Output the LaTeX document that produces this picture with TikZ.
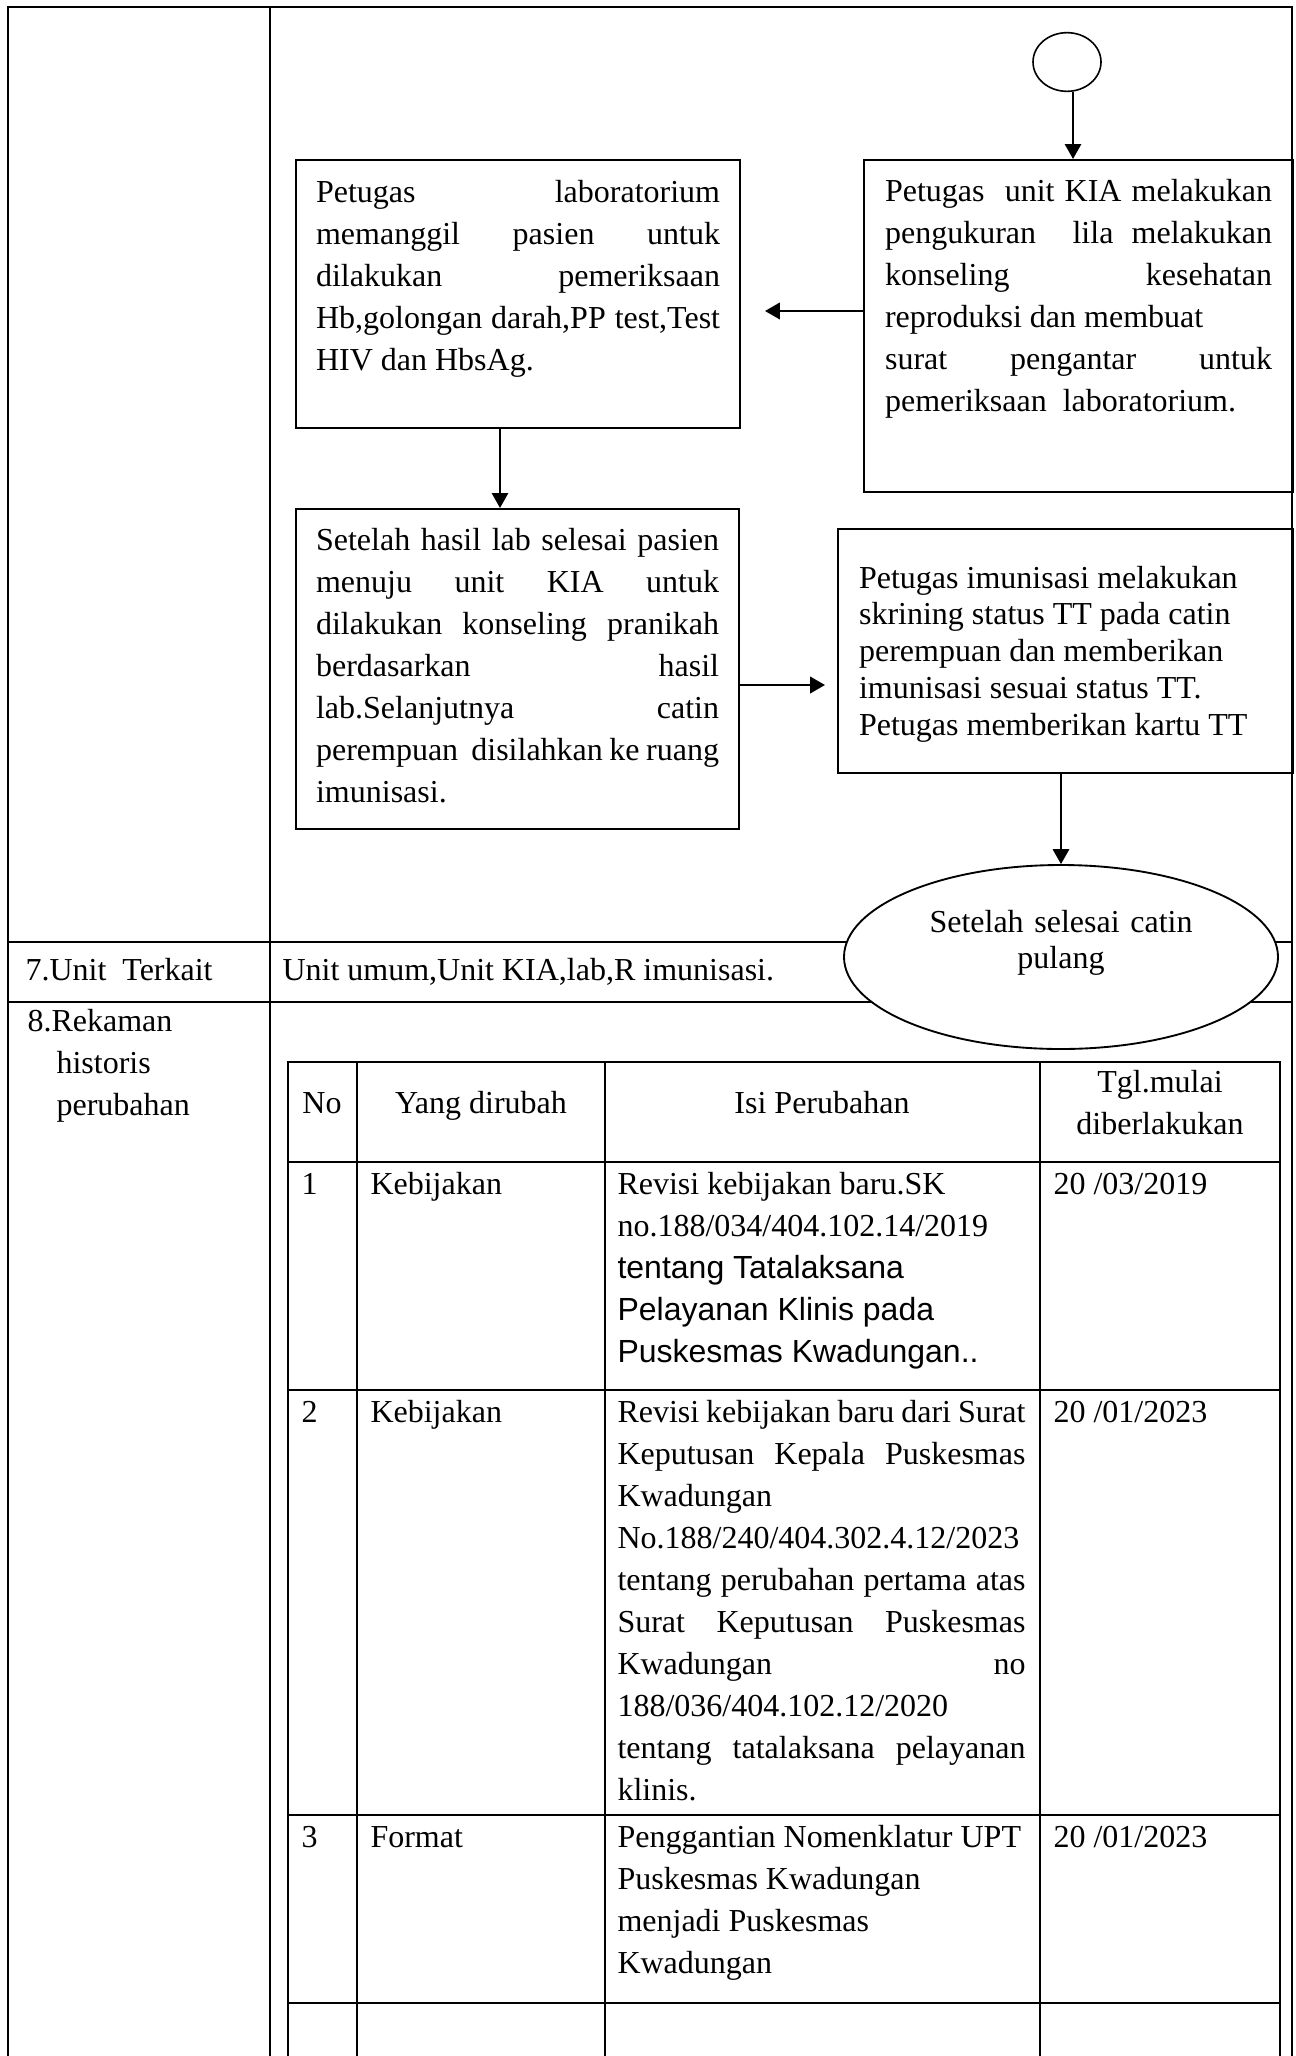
\documentclass[tikz,border=0pt]{standalone}
\usepackage{fontspec}
\setmainfont{Liberation Serif}
\newfontfamily\arialfont{Liberation Sans}
\usepackage{tikz}
\usetikzlibrary{positioning,arrows.meta,shapes.geometric}
\newcommand\jline[1]{{\spaceskip=0pt\xspaceskip=0pt\makebox[\hsize][s]{#1}}}
\tikzset{
    x=0.375pt,
    y=-0.375pt,
    block/.style = {
        draw,
        shape=rectangle,
        line width=0.8pt,
        inner xsep=7.5pt,
        inner ysep=0pt,
        align=left,
        anchor=base west,
        font=\fontsize{12}{15.75}\selectfont,
        execute at begin node={\spaceskip=0pt\xspaceskip=0pt\relax}
    },
    terminal/.style = {
        draw,
        shape=ellipse,
        fill=white,
        line width=0.7pt,
        inner sep=0pt
    },
    cell/.style = {
        anchor=base west,
        inner sep=0pt,
        align=left,
        font=\fontsize{12}{15.75}\selectfont,
        execute at begin node={\spaceskip=0pt\xspaceskip=0pt\relax}
    },
    rule/.style = {line width=1pt, line cap=rect},
    thinline/.style = {line width=0.5pt},
    thickline/.style = {line width=0.9pt},
    >={Triangle[length=5.6pt,width=6.2pt]},
}

\begin{document}
\begin{tikzpicture}
    \useasboundingbox (0,0) rectangle (1296,2056);

    % outer table
    \draw[rule] (8,2056) -- (8,7) -- (1292,7) -- (1292,2056);
    \draw[rule] (270,7) -- (270,2056);
    \draw[rule] (8,942) -- (1292,942);
    \draw[rule] (8,1002) -- (1292,1002);

    % flow
    \node[terminal, line width=0.6pt, minimum width=25.5pt, minimum height=22pt] (start) at (1067,62) {};
    \node[block, inner xsep=7.875pt, text width=145.125pt, text height=15.375pt, text depth=109.125pt] (kia) at (863,201)
        {\jline{Petugas\ \ unit KIA melakukan}\\
         \jline{pengukuran\ \ lila melakukan}\\
         \jline{konseling kesehatan}\\
         reproduksi dan membuat\\
         \jline{surat pengantar untuk}\\
         pemeriksaan\ \ laboratorium.};
    \node[block, text width=151.5pt, text height=15.75pt, text depth=84.75pt] (lab) at (295,202)
        {\jline{Petugas laboratorium}\\
         \jline{memanggil pasien untuk}\\
         \jline{dilakukan pemeriksaan}\\
         \jline{Hb,golongan darah,PP test,Test}\\
         HIV dan HbsAg.};
    \node[block, text width=151.125pt, text height=15.375pt, text depth=104.625pt] (konseling) at (295,550)
        {\jline{Setelah hasil lab selesai pasien}\\
         \jline{menuju unit KIA untuk}\\
         \jline{dilakukan konseling pranikah}\\
         \jline{berdasarkan hasil}\\
         \jline{lab.Selanjutnya catin}\\
         \jline{perempuan\ \ disilahkan ke ruang}\\
         imunisasi.};
    \node[block, inner xsep=7.875pt, text width=154.875pt, text height=22.125pt, text depth=69.375pt,
          font=\fontsize{12}{13.8}\selectfont] (imunisasi) at (837,588)
        {Petugas imunisasi melakukan\\
         skrining status TT pada catin\\
         perempuan dan memberikan\\
         imunisasi sesuai status TT.\\
         Petugas memberikan kartu TT};
    \node[terminal, minimum width=162.75pt, minimum height=69pt, text width=112.5pt, align=center,
          text height=7.5pt, text depth=26.25pt, font=\fontsize{12}{13.5}\selectfont] (pulang) at (1061,957)
        {Setelah selesai catin\\pulang};

    \coordinate (startout) at (1073,0);
    \coordinate (labin) at (765,311);
    \coordinate (labout) at (500,0);
    \coordinate (imunin) at (825,685);
    \path[draw, ->, thinline] (start.south -| startout) -- (kia.north -| startout);
    \path[draw, ->, thickline] (kia.west |- labin) -- (labin);
    \path[draw, ->, thinline] (lab.south -| labout) -- (konseling.north -| labout);
    \path[draw, ->, thickline] (konseling.east |- imunin) -- (imunin);
    \path[draw, ->, thinline] (pulang.north |- imunisasi.south) -- (pulang.north);

    % rows 7 and 8
    \node[cell] (unitlabel) at (25,980) {7.Unit\ \ Terkait};
    \node[cell] (unitlist) at (282,980) {Unit umum,Unit KIA,lab,R imunisasi.};
    \node[cell, text width=90pt] (historylabel) at (27,1031)
        {8.Rekaman\\\hspace*{10.9pt}historis\\\hspace*{10.9pt}perubahan};

    % history table
    \foreach \x in {288,357,605,1040,1280}
        \draw[rule] (\x,1062) -- (\x,2056);
    \foreach \y in {1062,1162,1390,1815,2003}
        \draw[rule] (288,\y) -- (1280,\y);

    \node[cell, anchor=base] (hno) at (322,1113) {No};
    \node[cell, anchor=base] (hyang) at (481,1113) {Yang dirubah};
    \node[cell, anchor=base] (hisi) at (822,1113) {Isi Perubahan};
    \node[cell, anchor=base, text width=81pt, align=center] (htgl) at (1160,1092) {Tgl.mulai\\diberlakukan};

    \node[cell] (no1) at (301,1194) {1};
    \node[cell] (yang1) at (370,1194) {Kebijakan};
    \node[cell, text width=153pt] (isi1) at (617,1194)
        {Revisi kebijakan baru.SK\\
         no.188/034/404.102.14/2019\\
         {\arialfont tentang Tatalaksana}\\
         {\arialfont Pelayanan Klinis pada}\\
         {\arialfont Puskesmas Kwadungan..}};
    \node[cell] (tgl1) at (1053,1194) {20 /03/2019};

    \node[cell] (no2) at (301,1422) {2};
    \node[cell] (yang2) at (370,1422) {Kebijakan};
    \node[cell, text width=153pt] (isi2) at (617,1422)
        {\jline{Revisi kebijakan baru dari Surat}\\
         \jline{Keputusan Kepala Puskesmas}\\
         Kwadungan\\
         \mbox{No.188/240/404.302.4.12/2023}\\
         \jline{tentang perubahan pertama atas}\\
         \jline{Surat Keputusan Puskesmas}\\
         \jline{Kwadungan no}\\
         188/036/404.102.12/2020\\
         \jline{tentang tatalaksana pelayanan}\\
         klinis.};
    \node[cell] (tgl2) at (1053,1422) {20 /01/2023};

    \node[cell] (no3) at (301,1847) {3};
    \node[cell] (yang3) at (370,1847) {Format};
    \node[cell, text width=153pt] (isi3) at (617,1847)
        {\mbox{Penggantian Nomenklatur UPT}\\
         Puskesmas Kwadungan\\
         menjadi Puskesmas\\
         Kwadungan};
    \node[cell] (tgl3) at (1053,1847) {20 /01/2023};
\end{tikzpicture}
\end{document}
